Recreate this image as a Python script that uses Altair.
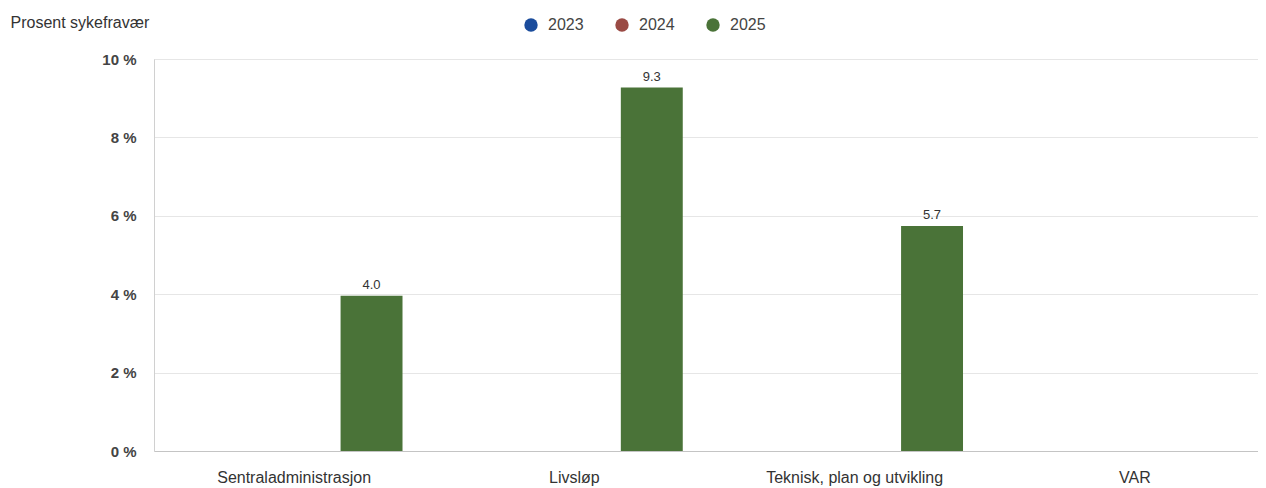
import altair as alt
import pandas as pd

categories = ["Sentraladministrasjon", "Livsløp", "Teknisk, plan og utvikling", "VAR"]
years = ["2023", "2024", "2025"]
values_2023 = [None, None, None, None]
values_2024 = [None, None, None, None]
values_2025 = [3.96, 9.27, 5.74, None]
colors = ["#1b4c9c", "#9a4a44", "#4a7338"]

series = {"2023": values_2023, "2024": values_2024, "2025": values_2025}
rows = []
for y in years:
    for c, v in zip(categories, series[y]):
        rows.append({"kategori": c, "år": y, "verdi": v})
df = pd.DataFrame(rows)

FONT = "Liberation Sans"

base = alt.Chart(df).encode(
    x=alt.X(
        "kategori:N",
        sort=categories,
        scale=alt.Scale(domain=categories, paddingInner=0, paddingOuter=0,
                        range=[0, 1121]),
        axis=alt.Axis(
            title=None, labelAngle=0, ticks=False, labelPadding=18,
            labelFontSize=16, labelColor="#333", domainColor="#c4c4c4",
            labelFont=FONT,
        ),
    ),
    xOffset=alt.XOffset(
        "år:N", sort=years,
        scale=alt.Scale(domain=years, paddingInner=0.2, paddingOuter=0.41),
    ),
    y=alt.Y(
        "verdi:Q",
        scale=alt.Scale(domain=[0, 10], nice=False),
        axis=alt.Axis(
            title="Prosent sykefravær", titleAngle=0, titleAlign="left",
            titleBaseline="middle", titleX=-144, titleY=-37,
            titleFontWeight="normal", titleFontSize=16, titleColor="#333",
            titleFont=FONT,
            values=[0, 2, 4, 6, 8, 10],
            labelExpr="datum.value + ' %'",
            labelFontWeight="bold", labelFontSize=15, labelColor="#444",
            labelFont=FONT, labelPadding=18, ticks=False,
            domainColor="#d0d0d0", gridColor="#e6e6e6",
        ),
    ),
)

bars = base.mark_bar().encode(
    color=alt.Color(
        "år:N",
        scale=alt.Scale(domain=years, range=colors),
        legend=alt.Legend(
            title=None, orient="none", legendX=369, legendY=-42,
            direction="horizontal", symbolType="circle", symbolSize=180,
            symbolStrokeWidth=0, symbolOpacity=1,
            labelFontSize=16, labelColor="#444", labelFont=FONT,
            labelOffset=9, columnPadding=30,
        ),
    )
)

labels = base.transform_filter("isValid(datum.verdi)").mark_text(
    baseline="bottom", dy=-4, fontSize=13, color="#333", font=FONT
).encode(text=alt.Text("verdi:Q", format=".1f"))

chart = (
    alt.layer(bars, labels)
    .properties(
        width=1104, height=392,
        autosize=alt.AutoSizeParams(type="none"),
        padding={"left": 146, "top": 51, "right": 0, "bottom": 37},
    )
    .configure_view(stroke=None)
    .configure(font=FONT)
)

chart.save("out.html", embed_options={"renderer": "svg", "actions": False})
